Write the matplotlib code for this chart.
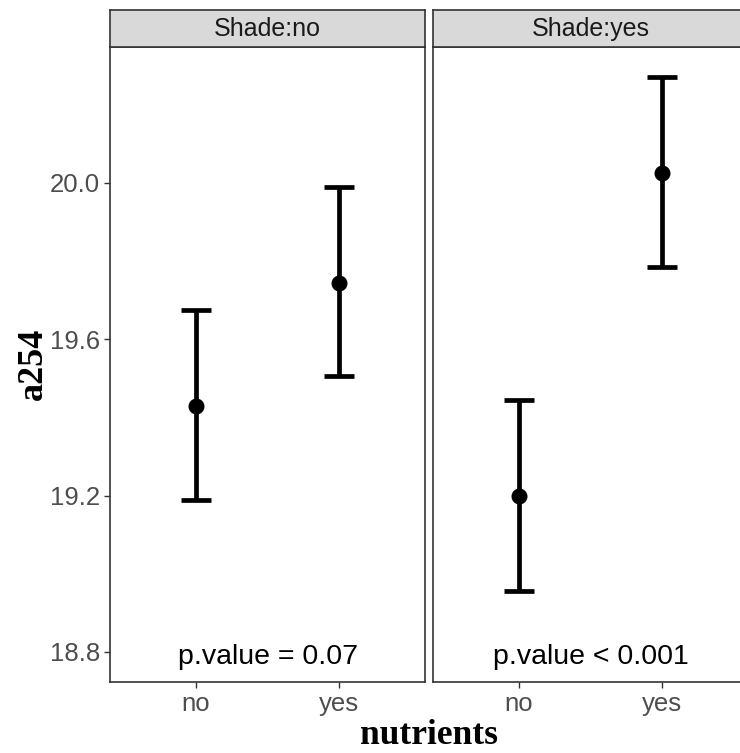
import numpy as np
import matplotlib.pyplot as plt

# group means and error bar limits
shade = ['no', 'yes']
nutrients = ['no', 'yes']
means = [[19.43, 19.745], [19.20, 20.025]]
lower = [[19.19, 19.505], [18.955, 19.785]]
upper = [[19.675, 19.99], [19.445, 20.27]]
pvals = ['p.value = 0.07', 'p.value < 0.001']
yticks = [18.8, 19.2, 19.6, 20.0]

plt.rcParams['font.family'] = ['Liberation Sans', 'DejaVu Sans']

fig = plt.figure(figsize=(7.4, 7.53), dpi=100)
W, H = 740, 753

def box(x0, y0, x1, y1):
    return [x0 / W, 1 - y1 / H, (x1 - x0) / W, (y1 - y0) / H]

panels = [(110, 425), (433, 748)]
for i, (x0, x1) in enumerate(panels):
    ax = fig.add_axes(box(x0, 47, x1, 682))
    x = np.arange(len(nutrients)) + 1
    m = np.array(means[i])
    lo = np.array(lower[i])
    hi = np.array(upper[i])
    ax.errorbar(x, m, yerr=[m - lo, hi - m], fmt='o', color='black',
                ms=10.5, elinewidth=3.4, capsize=11, capthick=3.4)
    ax.text(1.5, 18.788, pvals[i], ha='center', va='center', fontsize=20.5,
            color='black')
    ax.set_xlim(0.4, 2.6)
    ax.set_ylim(18.723, 20.348)
    ax.set_xticks(x)
    ax.set_xticklabels(nutrients, fontsize=18.5, color='#4D4D4D')
    ax.set_yticks(yticks)
    ax.tick_params(axis='both', color='#333333', width=1, length=4, pad=3)
    if i == 0:
        ax.set_yticklabels([f'{v:.1f}' for v in yticks], fontsize=18.5,
                           color='#4D4D4D')
    else:
        ax.set_yticklabels([])
        ax.tick_params(axis='y', length=0)
    for s in ax.spines.values():
        s.set_color('#333333')
        s.set_linewidth(1.2)

    sax = fig.add_axes(box(x0, 10, x1, 47))
    sax.set_facecolor('#D9D9D9')
    sax.set_xticks([])
    sax.set_yticks([])
    for s in sax.spines.values():
        s.set_color('#333333')
        s.set_linewidth(1.2)
    sax.text(0.5, 0.48, f'Shade:{shade[i]}', ha='center', va='center',
             fontsize=18, color='#1A1A1A', transform=sax.transAxes)

fig.text(33 / W, 1 - 364 / H, 'a254', rotation=90, ha='center', va='center',
         fontsize=26, fontweight='bold', family='Liberation Serif')
fig.text(429 / W, 1 - 736 / H, 'nutrients', ha='center', va='center',
         fontsize=25.5, fontweight='bold', family='Liberation Serif')

fig.savefig('out.png', dpi=100)
